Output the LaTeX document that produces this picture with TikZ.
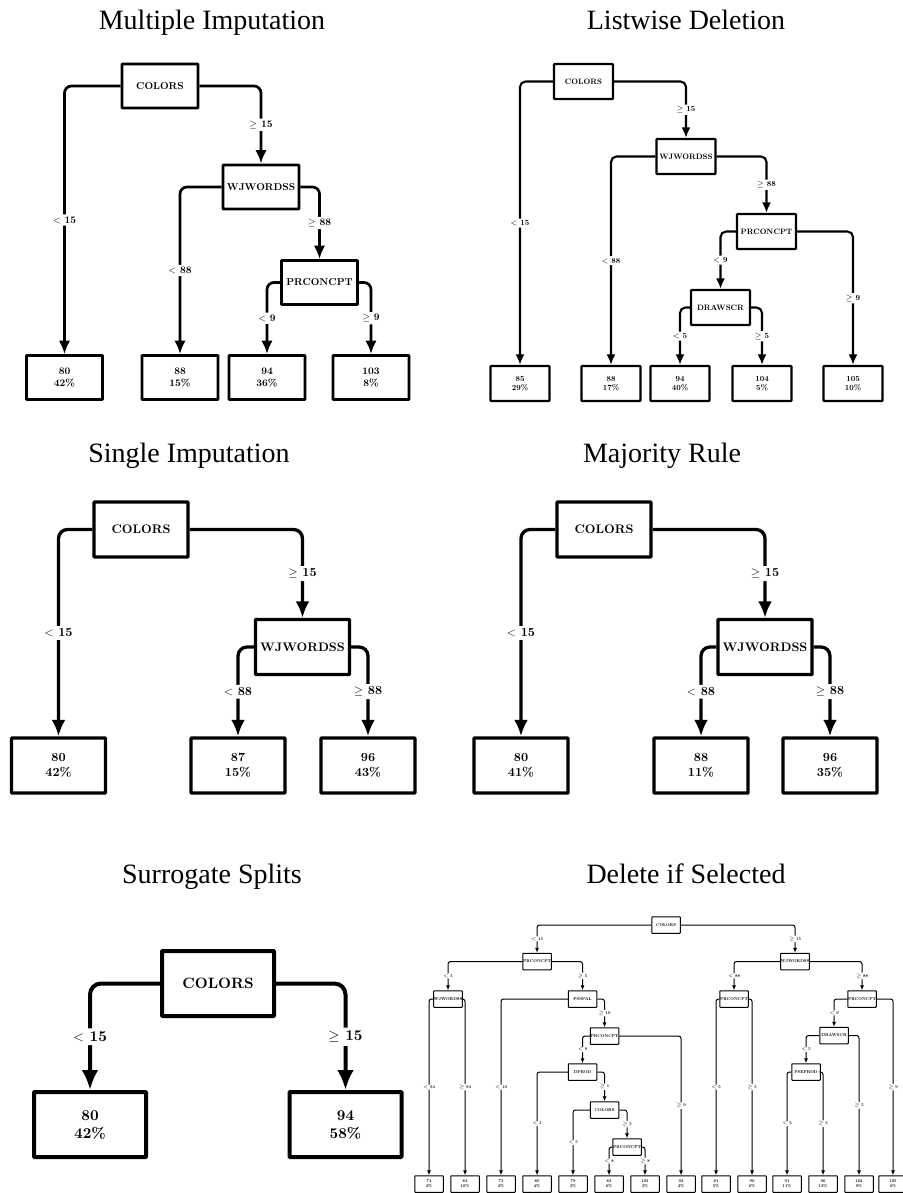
\documentclass[tikz,border=0pt]{standalone}
\usepackage{fontspec}
\newfontfamily\headfont{Liberation Serif}
\newfontfamily\nodefont{lmroman10-bold.otf}
\usetikzlibrary{arrows.meta}
\tikzset{
  panel/.style n args={6}{line width=#5, rounded corners=#6,
    every node/.style={font=\nodefont\fontsize{#1}{#2}\selectfont, align=center},
    box/.style={draw, rounded corners=.6pt, minimum width=#3, minimum height=#4, inner sep=0pt},
    lbl/.style={fill=white, inner sep=.8*#5, pos=.75},
    conn/.style={-{Latex[length=0pt 5,width=0pt 4.2]}}},
  heading/.style={font=\headfont\fontsize{28}{32}\selectfont, anchor=base},
}

\begin{document}
\begin{tikzpicture}[x=1pt,y=-1pt]
  \useasboundingbox (0,0) rectangle (902,1193);
  \node[heading] (mi-title) at (212,30) {Multiple Imputation};
  \node[heading] (ld-title) at (686,30) {Listwise Deletion};
  \node[heading] (si-title) at (189,462) {Single Imputation};
  \node[heading] (mr-title) at (662,462) {Majority Rule};
  \node[heading] (ss-title) at (212,883) {Surrogate Splits};
  \node[heading] (ds-title) at (686,883) {Delete if Selected};

  \begin{scope}[panel={10}{12}{76pt}{44pt}{2.7pt}{7pt}]
    \node[box] (mi-colors) at (160,86) {COLORS};
    \node[box] (mi-wj) at (261,187) {WJWORDSS};
    \node[box] (mi-pr) at (319.5,282.5) {PRCONCPT};
    \foreach \n/\x/\v/\p in {1/64.5/80/42,2/180/88/15,3/267/94/36,4/371/103/8}
      \node[box] (mi-l\n) at (\x,377.5) {\v\\\p\%};
    \foreach \a/\s/\b/\t in {mi-colors/west/mi-l1/$<$ 15,mi-colors/east/mi-wj/$\geq$ 15,
      mi-wj/west/mi-l2/$<$ 88,mi-wj/east/mi-pr/$\geq$ 88,mi-pr/west/mi-l3/$<$ 9,mi-pr/east/mi-l4/$\geq$ 9}
      \draw[conn] (\a.\s) -| (\b.north) node[lbl] {\t};
  \end{scope}

  \begin{scope}[panel={7.8}{9.6}{59pt}{35pt}{2.1pt}{5.5pt}]
    \node[box] (ld-colors) at (583.5,81.5) {COLORS};
    \node[box] (ld-wj) at (686,156.5) {WJWORDSS};
    \node[box] (ld-pr) at (766.5,231.5) {PRCONCPT};
    \node[box] (ld-dr) at (720.5,307.5) {DRAWSCR};
    \foreach \n/\x/\v/\p in {1/520/85/29,2/611/88/17,3/680/94/40,4/762/104/5,5/853/105/10}
      \node[box] (ld-l\n) at (\x,383.5) {\v\\\p\%};
    \foreach \a/\s/\b/\t in {ld-colors/west/ld-l1/$<$ 15,ld-colors/east/ld-wj/$\geq$ 15,
      ld-wj/west/ld-l2/$<$ 88,ld-wj/east/ld-pr/$\geq$ 88,ld-pr/west/ld-dr/$<$ 9,ld-pr/east/ld-l5/$\geq$ 9,
      ld-dr/west/ld-l3/$<$ 5,ld-dr/east/ld-l4/$\geq$ 5}
      \draw[conn] (\a.\s) -| (\b.north) node[lbl] {\t};
  \end{scope}

  \begin{scope}[panel={12.4}{15}{94pt}{55pt}{3.3pt}{9pt}]
    \node[box] (si-colors) at (141,529.5) {COLORS};
    \node[box] (si-wj) at (302.5,647) {WJWORDSS};
    \foreach \n/\x/\v/\p in {1/58.5/80/42,2/238/87/15,3/368/96/43}
      \node[box] (si-l\n) at (\x,765.5) {\v\\\p\%};
    \node[box] (mr-colors) at (604,529.5) {COLORS};
    \node[box] (mr-wj) at (765,647) {WJWORDSS};
    \foreach \n/\x/\v/\p in {1/521/80/41,2/701/88/11,3/830/96/35}
      \node[box] (mr-l\n) at (\x,765.5) {\v\\\p\%};
    \foreach \a/\s/\b/\t in {si-colors/west/si-l1/$<$ 15,si-colors/east/si-wj/$\geq$ 15,
      si-wj/west/si-l2/$<$ 88,si-wj/east/si-l3/$\geq$ 88,mr-colors/west/mr-l1/$<$ 15,
      mr-colors/east/mr-wj/$\geq$ 15,mr-wj/west/mr-l2/$<$ 88,mr-wj/east/mr-l3/$\geq$ 88}
      \draw[conn] (\a.\s) -| (\b.north) node[lbl] {\t};
  \end{scope}

  \begin{scope}[panel={15}{18}{112pt}{65pt}{4pt}{11pt}]
    \node[box] (ss-colors) at (218,983.5) {COLORS};
    \foreach \n/\x/\v/\p in {1/90/80/42,2/345.5/94/58}
      \node[box] (ss-l\n) at (\x,1124.5) {\v\\\p\%};
    \foreach \a/\s/\b/\t in {ss-colors/west/ss-l1/$<$ 15,ss-colors/east/ss-l2/$\geq$ 15}
      \draw[conn] (\a.\s) -| (\b.north) node[lbl] {\t};
  \end{scope}

  \begin{scope}[panel={4.2}{5.2}{28.5pt}{16.5pt}{1pt}{2.5pt}]
    \node[box] (ds-colors) at (666,925) {COLORS};
    \node[box] (ds-pra) at (537,961.5) {PRCONCPT};
    \node[box] (ds-wja) at (448,999) {WJWORDSS};
    \node[box] (ds-ps) at (582.5,999) {PSSPAL};
    \node[box] (ds-prb) at (604.5,1036) {PRCONCPT};
    \node[box] (ds-dp) at (582.5,1072) {DPROD};
    \node[box] (ds-cob) at (604.5,1110) {COLORS};
    \node[box] (ds-prc) at (627,1147) {PRCONCPT};
    \node[box] (ds-wjb) at (795,961.5) {WJWORDSS};
    \node[box] (ds-prd) at (734,999) {PRCONCPT};
    \node[box] (ds-pre) at (862,999) {PRCONCPT};
    \node[box] (ds-dr) at (834,1035.5) {DRAWSCR};
    \node[box] (ds-pe) at (806,1072) {PSEPROD};
    \foreach \n/\x/\v/\p in {1/429/74/2,2/465/84/10,3/501/73/2,4/537/80/4,5/573/79/3,6/609/83/6,
      7/645/103/3,8/681/92/2,9/716/81/5,10/752/90/6,11/787/91/11,12/823/96/12,13/859/102/9,14/893/105/6}
      \node[box] (ds-l\n) at (\x,1184) {\v\\\p\%};
    \foreach \a/\s/\b/\t in {ds-colors/west/ds-pra/$<$ 15,ds-colors/east/ds-wjb/$\geq$ 15,
      ds-pra/west/ds-wja/$<$ 5,ds-pra/east/ds-ps/$\geq$ 5,ds-wja/west/ds-l1/$<$ 94,ds-wja/east/ds-l2/$\geq$ 94,
      ds-ps/west/ds-l3/$<$ 10,ds-ps/east/ds-prb/$\geq$ 10,ds-prb/west/ds-dp/$<$ 9,ds-prb/east/ds-l8/$\geq$ 9,
      ds-dp/west/ds-l4/$<$ 1,ds-dp/east/ds-cob/$\geq$ 1,ds-cob/west/ds-l5/$<$ 5,ds-cob/east/ds-prc/$\geq$ 5,
      ds-prc/west/ds-l6/$<$ 8,ds-prc/east/ds-l7/$\geq$ 8,ds-wjb/west/ds-prd/$<$ 88,ds-wjb/east/ds-pre/$\geq$ 88,
      ds-prd/west/ds-l9/$<$ 5,ds-prd/east/ds-l10/$\geq$ 5,ds-pre/west/ds-dr/$<$ 9,ds-pre/east/ds-l14/$\geq$ 9,
      ds-dr/west/ds-pe/$<$ 5,ds-dr/east/ds-l13/$\geq$ 5,ds-pe/west/ds-l11/$<$ 3,ds-pe/east/ds-l12/$\geq$ 3}
      \draw[conn] (\a.\s) -| (\b.north) node[lbl] {\t};
  \end{scope}
\end{tikzpicture}
\end{document}
